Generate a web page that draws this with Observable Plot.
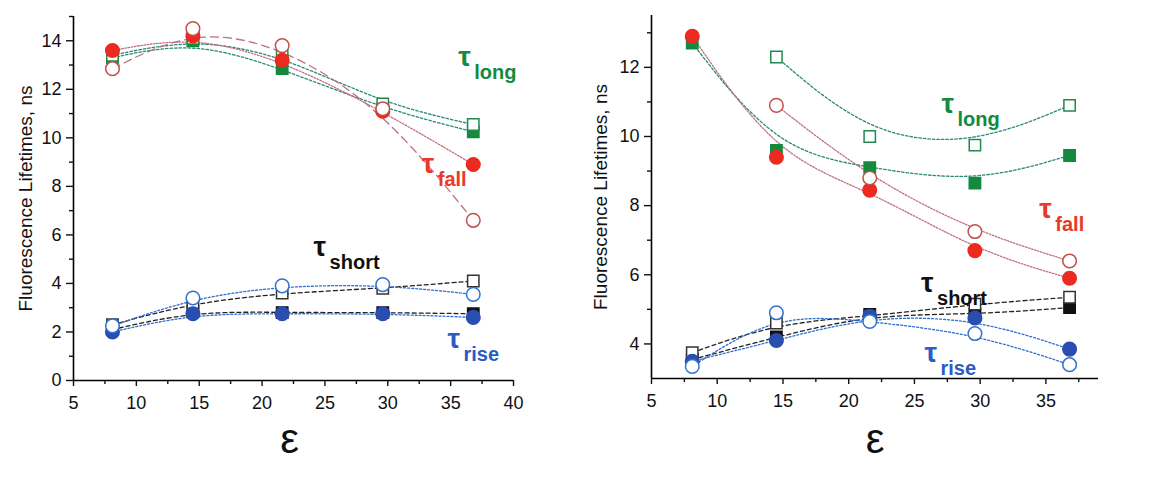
<!DOCTYPE html>
<html>
<head>
<meta charset="utf-8">
<script src="https://cdn.jsdelivr.net/npm/d3@7"></script>
<script src="https://cdn.jsdelivr.net/npm/@observablehq/plot@0.6"></script>
<style>
  html, body { margin: 0; padding: 0; background: #fff; }
  #wrap { display: flex; width: 1151px; height: 487px; }
</style>
</head>
<body>
<div id="wrap"></div>
<script>
// ---- data ----
const eps = [8.1, 14.5, 21.6, 29.6, 36.8];

// Left panel
const leftLongFilled  = [13.3, 14.0, 12.85, 11.2, 10.25];
const leftLongOpen    = [13.4, 14.1, 13.4, 11.4, 10.55];
const leftFallFilled  = [13.6, 14.2, 13.2, 11.1, 8.9];
const leftFallOpen    = [12.85, 14.5, 13.8, 11.2, 6.6];
const leftShortFilled = [2.1, 2.85, 2.8, 2.8, 2.75];
const leftShortOpen   = [2.3, 3.2, 3.6, 3.8, 4.1];
const leftRiseFilled  = [2.0, 2.75, 2.75, 2.75, 2.6];
const leftRiseOpen    = [2.25, 3.4, 3.9, 3.95, 3.55];

// Right panel
const rightLongFilled  = [12.7, 9.6, 9.1, 8.65, 9.45];
const rightLongOpen    = [null, 12.3, 10.0, 9.75, 10.9];
const rightFallFilled  = [12.9, 9.4, 8.45, 6.7, 5.9];
const rightFallOpen    = [null, 10.9, 8.8, 7.25, 6.4];
const rightShortFilled = [3.55, 4.2, 4.85, 4.85, 5.05];
const rightShortOpen   = [3.75, 4.6, 4.8, 5.15, 5.35];
const rightRiseFilled  = [3.5, 4.1, 4.8, 4.75, 3.85];
const rightRiseOpen    = [3.35, 4.9, 4.65, 4.3, 3.4];

// Labels (tau + subscript)
const labelNames = ["long", "fall", "short", "rise"];
const leftLabelX  = [35.6, 32.7, 24.1, 34.75];
const leftLabelY  = [12.96, 8.56, 5.14, 1.32];
const rightLabelX = [27.05, 34.5, 25.5, 25.76];
const rightLabelY = [10.68, 7.64, 5.5, 3.48];

// Axis ticks
const leftXTicks = [5, 10, 15, 20, 25, 30, 35, 40];
const rightXTicks = [5, 10, 15, 20, 25, 30, 35];
const xMinorTicks = [7.5, 12.5, 17.5, 22.5, 27.5, 32.5, 37.5];
const leftYTicks = [0, 2, 4, 6, 8, 10, 12, 14];
const leftYMinor = [1, 3, 5, 7, 9, 11, 13, 15];
const rightYTicks = [4, 6, 8, 10, 12];
const rightYMinor = [5, 7, 9, 11, 13];

const yTitle = "Fluorescence Lifetimes, ns";
const xTitle = "ε";

// ---- styles ----
const GREEN = "#138a3e", RED = "#ec2a1f", BLACK = "#111111", BLUE = "#2a4db0";
const labelColors = [GREEN, "#e8392a", BLACK, "#2a5cc4"];
const FONT = "'Liberation Sans', Arial, sans-serif";

function seriesList(p) {
  return [
    {v: p.longFilled,  sym: "square", fill: GREEN, stroke: GREEN, line: "#2a8a78", dash: "2.5,2"},
    {v: p.longOpen,    sym: "square", fill: "white", stroke: "#1f8a4c", line: "#2a8a78", dash: "2.5,2"},
    {v: p.fallFilled,  sym: "circle", fill: RED, stroke: RED, line: "#c0707e", dash: "1.6,1.6"},
    {v: p.fallOpen,    sym: "circle", fill: "white", stroke: "#c0504a", line: "#c0707e", dash: p.fallOpenDash},
    {v: p.shortFilled, sym: "square", fill: BLACK, stroke: BLACK, line: "#222", dash: "4,3"},
    {v: p.shortOpen,   sym: "square", fill: "white", stroke: "#333", line: "#222", dash: "4,3"},
    {v: p.riseFilled,  sym: "circle", fill: BLUE, stroke: BLUE, line: "#2f6fd0", dash: "2,2"},
    {v: p.riseOpen,    sym: "circle", fill: "white", stroke: "#2f73d0", line: "#2f6fd0", dash: "2,2"}
  ];
}

function panel(p) {
  const S = seriesList(p);
  const rows = S.map(s => eps.map((x, i) => ({x, y: s.v[i]})).filter(d => d.y != null));
  const labels = labelNames.map((n, i) => ({x: p.labelX[i], y: p.labelY[i], sub: n, c: labelColors[i]}));
  const marks = [];
  // fitted curves
  S.forEach((s, k) => marks.push(Plot.line(rows[k], {x: "x", y: "y", curve: "basis", stroke: s.line, strokeWidth: 1.3, strokeDasharray: s.dash})));
  // markers
  S.forEach((s, k) => marks.push(Plot.dot(rows[k], {x: "x", y: "y", symbol: s.sym, r: s.sym === "square" ? 6.4 : 6.8, fill: s.fill, stroke: s.stroke, strokeWidth: 1.5})));
  // axes
  marks.push(
    Plot.ruleX([p.xDomain[0]], {y1: p.yDomain[0], y2: p.yDomain[1], stroke: "black", strokeWidth: 1.6}),
    Plot.ruleY([p.yDomain[0]], {x1: p.xDomain[0], x2: p.xDomain[1], stroke: "black", strokeWidth: 1.6}),
    Plot.axisY(p.yTicks, {tickSize: 7, tickPadding: 5, strokeWidth: 1.4, fontSize: 18, fill: "#111", label: null}),
    Plot.axisY(p.yMinor, {tickSize: 4, tickFormat: () => "", strokeWidth: 1.4, label: null}),
    Plot.axisX(p.xTicks, {tickSize: 6, tickPadding: 10, strokeWidth: 1.4, fontSize: 18, fill: "#111", label: null}),
    Plot.axisX(xMinorTicks, {tickSize: 4, tickFormat: () => "", strokeWidth: 1.4, label: null}),
    Plot.text([yTitle], {frameAnchor: "left", textAnchor: "middle", rotate: -90, dx: p.yTitleDx, fontSize: 19, fill: "#111"}),
    Plot.text([xTitle], {frameAnchor: "bottom", textAnchor: "middle", lineAnchor: "bottom", dx: p.xTitleDx, dy: p.xTitleDy, fontSize: 42, fill: "#111"}),
    // labels
    Plot.text(labels, {x: "x", y: "y", text: () => "τ", textAnchor: "start", lineAnchor: "bottom", fontSize: 28, fontWeight: "bold", fill: "c"}),
    Plot.text(labels, {x: "x", y: "y", text: "sub", textAnchor: "start", lineAnchor: "bottom", dx: 16, dy: 13, fontSize: 20, fontWeight: "bold", fill: "c"})
  );
  return Plot.plot({
    width: p.width, height: 487,
    marginLeft: p.ml, marginRight: p.mr, marginTop: p.mt, marginBottom: p.mb,
    x: {domain: p.xDomain},
    y: {domain: p.yDomain},
    style: {fontFamily: FONT, fontSize: "18px", color: "#111", background: "white"},
    marks
  });
}

const wrap = document.getElementById("wrap");
wrap.append(panel({
  width: 580, ml: 73, mr: 67, mt: 16, mb: 107,
  xDomain: [5, 40], yDomain: [0, 15],
  xTicks: leftXTicks, yTicks: leftYTicks, yMinor: leftYMinor,
  longFilled: leftLongFilled, longOpen: leftLongOpen, fallFilled: leftFallFilled, fallOpen: leftFallOpen,
  shortFilled: leftShortFilled, shortOpen: leftShortOpen, riseFilled: leftRiseFilled, riseOpen: leftRiseOpen,
  fallOpenDash: "8,5",
  labelX: leftLabelX, labelY: leftLabelY,
  yTitleDx: -48, xTitleDx: -4, xTitleDy: 72
}));
wrap.append(panel({
  width: 571, ml: 71, mr: 53, mt: 15, mb: 109,
  xDomain: [5, 39], yDomain: [3, 13.5],
  xTicks: rightXTicks, yTicks: rightYTicks, yMinor: rightYMinor,
  longFilled: rightLongFilled, longOpen: rightLongOpen, fallFilled: rightFallFilled, fallOpen: rightFallOpen,
  shortFilled: rightShortFilled, shortOpen: rightShortOpen, riseFilled: rightRiseFilled, riseOpen: rightRiseOpen,
  fallOpenDash: "1.6,1.6",
  labelX: rightLabelX, labelY: rightLabelY,
  yTitleDx: -51, xTitleDx: 0, xTitleDy: 74
}));
</script>
</body>
</html>
